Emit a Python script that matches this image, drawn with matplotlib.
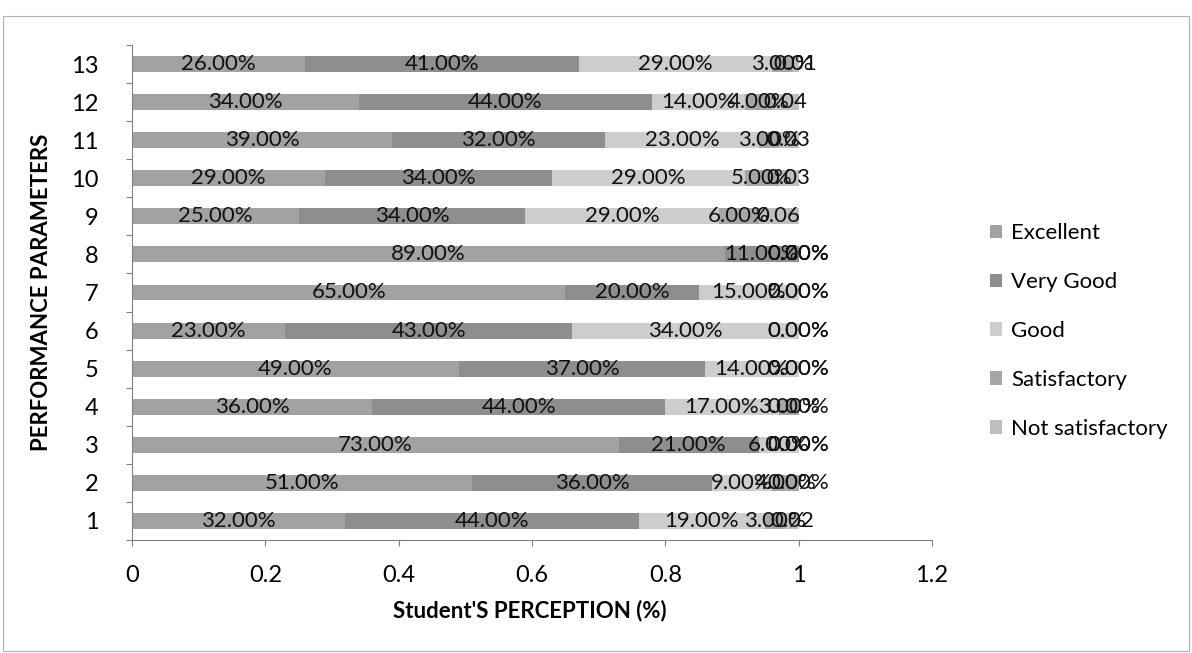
import matplotlib
matplotlib.use("Agg")
import matplotlib.pyplot as plt
from matplotlib.patches import Rectangle
import numpy as np

plt.rcParams['font.family'] = ['Lato', 'DejaVu Sans']

params = [str(i) for i in range(1, 14)]
series = ["Excellent", "Very Good", "Good", "Satisfactory", "Not satisfactory"]

excellent = [0.32, 0.51, 0.73, 0.36, 0.49, 0.23, 0.65, 0.89, 0.25, 0.29, 0.39, 0.34, 0.26]
very_good = [0.44, 0.36, 0.21, 0.44, 0.37, 0.43, 0.20, 0.11, 0.34, 0.34, 0.32, 0.44, 0.41]
good = [0.19, 0.09, 0.06, 0.17, 0.14, 0.34, 0.15, 0.00, 0.29, 0.29, 0.23, 0.14, 0.29]
satisfactory = [0.03, 0.04, 0.00, 0.03, 0.00, 0.00, 0.00, 0.00, 0.06, 0.05, 0.03, 0.04, 0.03]
not_satisfactory = [0.02, 0.00, 0.00, 0.00, 0.00, 0.00, 0.00, 0.00, 0.06, 0.03, 0.03, 0.04, 0.01]

# the last series was labelled without % where it is non-zero
ns_labels = ["0.02", "0.00%", "0.00%", "0.00%", "0.00%", "0.00%", "0.00%", "0.00%",
             "0.06", "0.03", "0.03", "0.04", "0.01"]

colors = ["#a2a2a2", "#8e8e8e", "#cdcdcd", "#a6a6a6", "#bfbfbf"]

W, H = 1192, 653
fig = plt.figure(figsize=(W / 100, H / 100), dpi=100)
fig.patches.append(Rectangle((3 / W, 2 / H), 1 - 6 / W, 1 - 18 / H, transform=fig.transFigure,
                             fill=False, edgecolor="#b0b0b0", linewidth=0.8))

ax = fig.add_axes([132 / W, 1 - 540 / H, 800 / W, 495 / H])

y = np.arange(len(params))
data = [excellent, very_good, good, satisfactory, not_satisfactory]
left = np.zeros(len(params))
for k, (name, vals) in enumerate(zip(series, data)):
    vals = np.array(vals)
    ax.barh(y, vals, left=left, height=0.42, color=colors[k], label=name, linewidth=0)
    for i, v in enumerate(vals):
        if k == 4:
            txt = ns_labels[i]
        else:
            txt = f"{v * 100:.2f}%"
        ax.text(left[i] + v / 2, y[i], txt, ha="center", va="center", fontsize=16, color="#111111")
    left = left + vals

ax.set_xlim(0, 1.2)
ax.set_ylim(-0.5, len(params) - 0.5)
ax.set_xticks(np.arange(0, 1.21, 0.2))
ax.set_xticklabels([f"{v:g}" for v in np.round(np.arange(0, 1.21, 0.2), 1)], fontsize=17)
ax.set_yticks(y)
ax.set_yticklabels(params, fontsize=17)
ax.set_yticks(np.arange(-0.5, len(params), 1), minor=True)
ax.tick_params(axis="y", which="major", length=0, pad=24)
ax.tick_params(axis="y", which="minor", length=4, color="#808080", width=0.8)
ax.tick_params(axis="x", length=4, color="#808080", width=0.8, pad=14)

for s in ["top", "right"]:
    ax.spines[s].set_visible(False)
for s in ["left", "bottom"]:
    ax.spines[s].set_color("#808080")
    ax.spines[s].set_linewidth(0.8)

fig.text(530 / W, 1 - 611 / H, "Student'S PERCEPTION (%)", ha="center", va="center",
         fontsize=16, fontweight="bold")
fig.text(42 / W, 1 - 292 / H, "PERFORMANCE PARAMETERS", ha="center", va="center",
         rotation=90, fontsize=16, fontweight="bold")

handles, labels = ax.get_legend_handles_labels()
fig.legend(handles, labels, loc="center left", bbox_to_anchor=(970 / W, 1 - 331 / H),
           frameon=False, fontsize=16, handlelength=0.55, handleheight=0.55,
           handletextpad=0.4, labelspacing=1.3)

fig.savefig("out.png", dpi=100)
